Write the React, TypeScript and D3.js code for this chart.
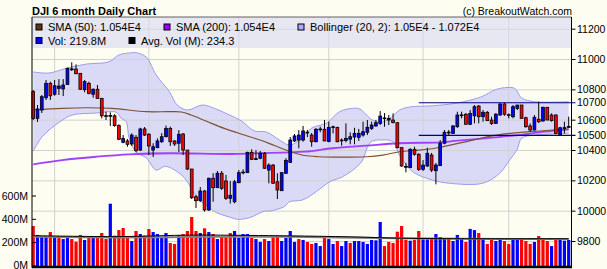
import React from "react";
import * as d3 from "d3";

const W = 607;
const H = 269;

// ---- Daily OHLC (DJI), 126 sessions ----
const opens = [
  10788, 10612, 10667, 10748, 10843, 10771, 10810, 10806, 10836, 10935,
  10937, 10909, 10801, 10843, 10771, 10804, 10744, 10630, 10627, 10629,
  10564, 10454, 10463, 10443, 10487, 10403, 10542, 10507, 10403, 10419,
  10458, 10491, 10546, 10463, 10448, 10509, 10403, 10278, 10095, 10069,
  10133, 10008, 10217, 10155, 10250, 10199, 10085, 10062, 10188, 10254,
  10254, 10388, 10342, 10349, 10382, 10271, 10304, 10194, 10135, 10250,
  10322, 10463, 10469, 10469, 10518, 10502, 10458, 10540, 10540, 10460,
  10553, 10552, 10467, 10466, 10475, 10489, 10487, 10502, 10520, 10546,
  10562, 10579, 10612, 10601, 10601, 10583, 10419, 10295, 10287, 10408,
  10375, 10276, 10298, 10370, 10267, 10300, 10448, 10518, 10513, 10557,
  10632, 10639, 10573, 10629, 10693, 10623, 10652, 10601, 10579, 10634,
  10707, 10636, 10623, 10678, 10700, 10616, 10562, 10535, 10606, 10595,
  10685, 10634, 10634, 10502, 10548, 10555,
];
const highs = [
  10799, 10700, 10766, 10865, 10854, 10865, 10871, 10871, 10946, 10982,
  10968, 10909, 10865, 10854, 10810, 10832, 10744, 10656, 10652, 10639,
  10573, 10502, 10476, 10513, 10502, 10550, 10555, 10515, 10448, 10480,
  10515, 10564, 10557, 10469, 10535, 10515, 10403, 10278, 10107, 10159,
  10140, 10221, 10250, 10265, 10265, 10239, 10199, 10206, 10271, 10276,
  10392, 10408, 10403, 10397, 10390, 10316, 10311, 10250, 10258, 10349,
  10489, 10509, 10535, 10562, 10535, 10515, 10548, 10557, 10601, 10590,
  10564, 10557, 10480, 10579, 10520, 10550, 10542, 10590, 10601, 10590,
  10601, 10660, 10647, 10634, 10645, 10588, 10419, 10318, 10415, 10425,
  10382, 10337, 10418, 10384, 10318, 10469, 10535, 10535, 10568, 10656,
  10656, 10647, 10667, 10700, 10700, 10667, 10660, 10623, 10647, 10711,
  10715, 10645, 10700, 10700, 10700, 10623, 10579, 10634, 10722, 10689,
  10685, 10645, 10639, 10557, 10590, 10623,
];
const lows = [
  10601, 10588, 10647, 10733, 10733, 10761, 10766, 10759, 10832, 10924,
  10904, 10799, 10784, 10771, 10748, 10740, 10612, 10601, 10562, 10557,
  10469, 10448, 10425, 10430, 10388, 10397, 10496, 10370, 10357, 10415,
  10450, 10487, 10430, 10430, 10390, 10370, 10271, 10080, 10021, 10060,
  9997, 10001, 10062, 10153, 10140, 10074, 10050, 10052, 10184, 10243,
  10252, 10337, 10337, 10342, 10278, 10184, 10179, 10080, 10133, 10245,
  10318, 10456, 10415, 10458, 10489, 10425, 10454, 10520, 10463, 10454,
  10513, 10454, 10432, 10454, 10441, 10441, 10463, 10491, 10502, 10535,
  10557, 10568, 10557, 10568, 10579, 10415, 10293, 10256, 10285, 10366,
  10265, 10265, 10291, 10258, 10177, 10298, 10441, 10502, 10509, 10550,
  10612, 10573, 10568, 10579, 10579, 10590, 10595, 10568, 10575, 10629,
  10629, 10612, 10612, 10667, 10612, 10550, 10524, 10535, 10581, 10590,
  10601, 10590, 10507, 10502, 10513, 10550,
];
const closes = [
  10612, 10674, 10755, 10843, 10761, 10827, 10825, 10832, 10942, 10938,
  10906, 10804, 10854, 10777, 10804, 10744, 10629, 10625, 10631, 10564,
  10474, 10480, 10441, 10502, 10399, 10542, 10502, 10430, 10425, 10463,
  10491, 10546, 10458, 10443, 10507, 10403, 10278, 10089, 10069, 10133,
  10008, 10217, 10155, 10250, 10151, 10085, 10105, 10194, 10254, 10258,
  10388, 10342, 10346, 10382, 10283, 10304, 10184, 10140, 10254, 10335,
  10469, 10496, 10502, 10529, 10521, 10458, 10540, 10542, 10463, 10552,
  10557, 10458, 10469, 10480, 10491, 10513, 10513, 10524, 10553, 10568,
  10583, 10627, 10615, 10612, 10584, 10419, 10298, 10292, 10408, 10375,
  10276, 10304, 10382, 10271, 10304, 10448, 10520, 10521, 10562, 10634,
  10635, 10573, 10645, 10689, 10623, 10652, 10597, 10579, 10639, 10707,
  10639, 10633, 10689, 10700, 10612, 10557, 10535, 10619, 10590, 10685,
  10601, 10597, 10513, 10550, 10551, 10558,
];

// ---- Volume (millions) and bar colour (r = down, b = up) ----
const volumes = [
  343, 266, 257, 246, 291, 246, 243, 231, 243, 231,
  208, 266, 223, 243, 243, 243, 283, 231, 534, 260,
  308, 326, 240, 214, 300, 274, 260, 317, 291, 274,
  240, 283, 197, 189, 263, 274, 300, 420, 300, 283,
  323, 291, 274, 231, 257, 246, 283, 300, 240, 274,
  274, 240, 231, 206, 231, 214, 246, 260, 214, 240,
  300, 206, 231, 223, 206, 189, 197, 171, 240, 231,
  189, 214, 171, 214, 197, 214, 214, 206, 189, 223,
  220, 377, 171, 206, 197, 294, 343, 225, 217, 225,
  300, 228, 228, 237, 274, 248, 231, 231, 214, 266,
  237, 206, 318, 308, 283, 231, 189, 223, 214, 223,
  214, 189, 240, 240, 228, 214, 189, 206, 257, 223,
  214, 171, 228, 228, 217, 223,
];
const volDir = (
  "rbbbrbrbbr" + "rrbrbrrrbr" + "rrrbrbrrbb" + "bbrrbrrrrb" + "rbrbrrrbbb" +
  "brbbrbrrbb" + "bbrbrrbbrb" + "brbbrbbbbb" + "bbrrrrrrbr" + "rbbrbbbrbb" +
  "brbbrbrrbb" + "rrbbrrrbrr" + "rbrbbb"
).split("");

// ---- Overlay lines: [session index, value] ----
const bbUpper: [number, number][] = [
  [0, 10918], [3.7, 10911], [7.7, 10942], [12.4, 10970], [17.7, 10985], [20, 11030],
  [22.4, 11043], [24, 11045], [26.4, 11016], [28.7, 10898], [31.8, 10788], [33.6, 10700],
  [36, 10667], [39.5, 10700], [42.3, 10678], [45.3, 10641], [48.6, 10595], [51.6, 10529],
  [54.4, 10522], [57.5, 10469], [59.8, 10436], [62.2, 10469], [65, 10548], [68.5, 10581],
  [71.5, 10656], [74.5, 10678], [76.2, 10674], [79.2, 10601], [81.5, 10588], [83.7, 10621],
  [85.5, 10667], [87.9, 10687], [93.2, 10695], [98.9, 10713], [104.7, 10755], [107.7, 10799],
  [110, 10814], [112.4, 10810], [114, 10746], [117.1, 10722], [125, 10722],
];
const bbLower: [number, number][] = [
  [0, 10396], [2.1, 10491], [6, 10585], [9.1, 10634], [14.7, 10647], [17.7, 10656],
  [19.4, 10652], [20.5, 10614], [21.7, 10590], [22.4, 10482], [24, 10390], [26.4, 10351],
  [28.7, 10271], [30.6, 10295], [32.3, 10283], [35.3, 10220], [38.3, 10089], [41.6, 10012],
  [42.8, 9990], [46.3, 9957], [47.7, 9946], [50.5, 9957], [54, 10000], [55.1, 10000],
  [58.6, 10030], [59.8, 10062], [62.9, 10074], [66.1, 10129], [69.2, 10194], [72.2, 10227],
  [75.5, 10291], [76.9, 10337], [78, 10420], [79, 10460], [81.6, 10470], [83.9, 10460],
  [85.5, 10370], [88.6, 10260], [93.2, 10205], [97.2, 10184], [104.9, 10184], [108.9, 10250],
  [111.2, 10337], [112.9, 10403], [114, 10480], [117.1, 10502], [125, 10513],
];
const sma50: [number, number][] = [
  [0, 10667], [6.8, 10678], [12.4, 10682], [18.4, 10678], [26.4, 10656], [31.8, 10656],
  [34.6, 10654], [36.9, 10634], [40.6, 10591], [44.6, 10546], [49.3, 10502], [53.3, 10466],
  [56.3, 10433], [60.3, 10390], [63.3, 10367], [66.8, 10359], [71.5, 10356], [77.8, 10359],
  [81.6, 10370], [85.5, 10392], [90.2, 10403], [94.9, 10420], [102.6, 10469], [108.2, 10502],
  [115.9, 10524], [125, 10542],
];
const sma200: [number, number][] = [
  [0, 10309], [6.8, 10337], [14.7, 10359], [22.4, 10375], [31.8, 10382], [46.3, 10377],
  [52.3, 10382], [63.3, 10392], [69.9, 10415], [77.8, 10432], [85.5, 10448], [94.9, 10454],
  [98.4, 10463], [105.4, 10480], [113.2, 10502], [119.4, 10524], [125, 10540],
];
const avgVol: [number, number][] = [
  [0, 260], [20, 252], [37, 265], [50, 262], [60, 258], [74, 250], [86, 238], [100, 234], [125, 234],
];
const avgVolGray: [number, number][] = [
  [0, 250], [20, 244], [40, 250], [60, 250], [80, 240], [100, 233], [125, 232],
];

// channel lines (start session, value, label)
const channelStart = 90;
const channelValues = [10715, 10500];
const channelLabels = ["10700", "10500"];

const priceTicks = [11200, 11000, 10800, 10600, 10400, 10200, 10000, 9800];
const volTicks = [0, 200, 400, 600];
const monthStarts = [5, 27, 48, 69, 91, 111];

const legendRow1 = [
  { color: "#663311", text: "SMA (50): 1.054E4" },
  { color: "#9900ff", text: "SMA (200): 1.054E4" },
  { color: "#aaaaff", text: "Bollinger (20, 2): 1.05E4 - 1.072E4" },
];
const legendRow2 = [
  { color: "#0000ff", text: "Vol: 219.8M" },
  { color: "#000000", text: "Avg. Vol (M): 234.3" },
];

export default function App() {
  const left = 32;
  const right = 571.5;
  const top = 17;
  const bottom = 267;

  const x = d3.scaleLinear().domain([0, 125]).range([33.2, 568.7]);
  const y = d3.scaleLinear().domain([9800, 11200]).range([241.5, 29.2]);
  const yv = d3.scaleLinear().domain([0, 600]).range([266, 196]);

  const curve = d3.curveCatmullRom.alpha(0.5);
  const priceLine = d3
    .line<[number, number]>()
    .x((d) => x(d[0]))
    .y((d) => y(d[1]))
    .curve(curve);
  const volLine = d3
    .line<[number, number]>()
    .x((d) => x(d[0]))
    .y((d) => yv(d[1]))
    .curve(curve);

  const upperPath = priceLine(bbUpper) || "";
  const lowerRev = priceLine(bbLower.slice().reverse()) || "";
  const bandPath = upperPath + "L" + lowerRev.slice(1) + "Z";

  const font = "'Liberation Sans', Arial, Helvetica, sans-serif";
  const bg = "#fdfdf2";

  const legX1 = [36, 164, 298];
  const legX2 = [36, 129];

  return (
    <svg
      width={W}
      height={H}
      style={{ position: "absolute", left: 0, top: 0, display: "block" }}
      fontFamily={font}
    >
      <rect x={0} y={0} width={W} height={H} fill={bg} />

      {/* Bollinger band */}
      <path d={bandPath} fill="#dadaf6" stroke="none" />

      {/* grid */}
      {priceTicks.map((t) => (
        <line key={"hg" + t} x1={left} x2={right} y1={y(t)} y2={y(t)} stroke="#d2d2d2" strokeWidth={1} />
      ))}
      {monthStarts.map((m) => (
        <line key={"vg" + m} x1={x(m)} x2={x(m)} y1={top} y2={bottom} stroke="#d2d2d2" strokeWidth={1} />
      ))}

      {/* band borders */}
      <path d={upperPath} fill="none" stroke="#9c9cf0" strokeWidth={1} />
      <path d={priceLine(bbLower) || ""} fill="none" stroke="#9c9cf0" strokeWidth={1} />

      {/* legend box */}
      <rect x={left} y={top} width={right - left} height={31} fill="#d8d8f2" fillOpacity={0.6} />

      {/* volume bars */}
      {volumes.map((v, i) => (
        <rect
          key={"v" + i}
          x={x(i) - 1.6}
          y={yv(v)}
          width={3.2}
          height={yv(0) - yv(v)}
          fill={volDir[i] === "r" ? "#ff0000" : "#0000ff"}
        />
      ))}

      {/* average volume lines */}
      <path d={volLine(avgVolGray) || ""} fill="none" stroke="#808080" strokeWidth={2} />
      <path d={volLine(avgVol) || ""} fill="none" stroke="#000000" strokeWidth={1} />

      {/* moving averages */}
      <path d={priceLine(sma200) || ""} fill="none" stroke="#a040ff" strokeWidth={1.8} />
      <path d={priceLine(sma50) || ""} fill="none" stroke="#805030" strokeWidth={1.2} />

      {/* channel lines */}
      {channelValues.map((v, k) => (
        <line key={"ch" + k} x1={x(channelStart)} x2={right + 4} y1={y(v)} y2={y(v)} stroke="#000080" strokeWidth={1.2} />
      ))}

      {/* candles */}
      {opens.map((o, i) => {
        const c = closes[i];
        const cx = x(i);
        const yt = y(Math.max(o, c));
        const yb = y(Math.min(o, c));
        const up = c >= o;
        return (
          <g key={"c" + i}>
            <line x1={cx} x2={cx} y1={y(highs[i])} y2={y(lows[i])} stroke="#000" strokeWidth={1} />
            <rect
              x={cx - 1.4}
              y={yt}
              width={2.8}
              height={Math.max(0.8, yb - yt)}
              fill={up ? "#0000ff" : "#ff0000"}
              stroke="#000"
              strokeWidth={0.8}
            />
          </g>
        );
      })}

      {/* axes */}
      <line x1={left} x2={left} y1={top} y2={bottom + 1} stroke="#000" strokeWidth={1} />
      <line x1={right} x2={right} y1={top} y2={bottom + 1} stroke="#000" strokeWidth={1} />
      <line x1={left} x2={right} y1={top} y2={top} stroke="#000" strokeWidth={0.6} />
      <line x1={left} x2={right + 0.5} y1={267} y2={267} stroke="#000" strokeWidth={2.5} />

      {/* right axis */}
      {priceTicks.map((t) => (
        <g key={"rt" + t}>
          <line x1={right} x2={right + 4} y1={y(t)} y2={y(t)} stroke="#000" strokeWidth={1} />
          <text x={577} y={y(t) + 3.6} fontSize={10.5} fill="#000">
            {t}
          </text>
        </g>
      ))}
      {channelValues.map((v, k) => (
        <text key={"cl" + k} x={577} y={y(v) + 3.6} fontSize={10.5} fill="#000">
          {channelLabels[k]}
        </text>
      ))}

      {/* left volume axis */}
      {volTicks.map((t) => (
        <g key={"lt" + t}>
          <line x1={left} x2={left + 4} y1={yv(t)} y2={yv(t)} stroke="#000" strokeWidth={1} />
          <text x={28} y={Math.min(yv(t) + 3.6, 268.5)} fontSize={10.5} textAnchor="end" fill="#000">
            {t + "M"}
          </text>
        </g>
      ))}

      {/* legend */}
      {legendRow1.map((d, k) => (
        <g key={"l1" + k}>
          <rect x={legX1[k]} y={24} width={6} height={6} fill={d.color} stroke="#000" strokeWidth={1} />
          <text x={legX1[k] + 12} y={31} fontSize={11} fill="#000">
            {d.text}
          </text>
        </g>
      ))}
      {legendRow2.map((d, k) => (
        <g key={"l2" + k}>
          <rect x={legX2[k]} y={37.5} width={6} height={6} fill={d.color} stroke="#000" strokeWidth={1} />
          <text x={legX2[k] + 12} y={44.5} fontSize={11} fill="#000">
            {d.text}
          </text>
        </g>
      ))}

      {/* titles */}
      <text x={32} y={14.5} fontSize={11} fontWeight="bold" fill="#000">
        DJI 6 month Daily Chart
      </text>
      <text x={572} y={14.5} fontSize={10.5} textAnchor="end" fill="#000">
        (c) BreakoutWatch.com
      </text>
    </svg>
  );
}
